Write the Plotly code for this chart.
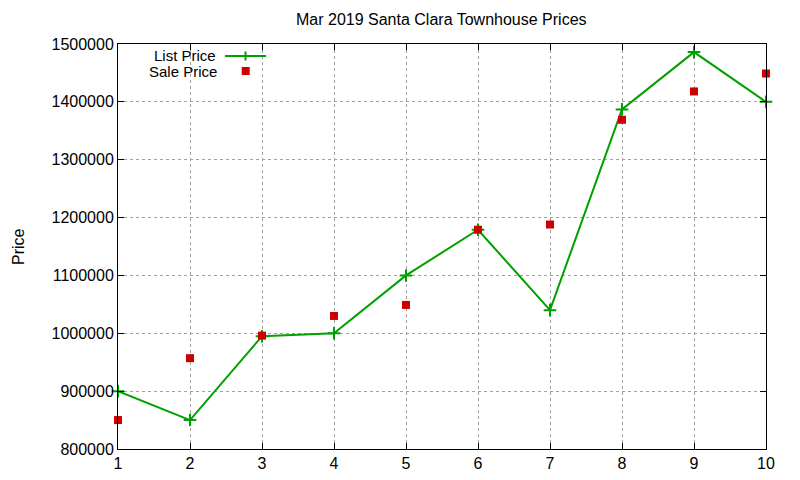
import plotly.graph_objects as go

x_vals = [1, 2, 3, 4, 5, 6, 7, 8, 9, 10]
list_price = [900000, 850000, 995000, 1000000, 1100000, 1179000, 1040000, 1387000, 1486000, 1400000]
sale_price = [850000, 957000, 996000, 1030000, 1049000, 1179000, 1188000, 1369000, 1418000, 1449000]
y_ticks = [800000, 900000, 1000000, 1100000, 1200000, 1300000, 1400000, 1500000]

GREEN = "#00a000"
RED = "#cc0000"
FONT = "Liberation Sans, Arial, sans-serif"

# plot area in page pixels (page has an 8px body offset)
PL, PR, PT, PB = 118, 766, 44, 449
OFF = 8
W, H = 800, 480
L, T = PL - OFF, PT - OFF
R, B = W - (PR - OFF), H - (PB - OFF)
pw, ph = PR - PL, PB - PT

def px(x):
    return (x - PL) / pw

def py(y):
    return (PB - y) / ph

fig = go.Figure()
fig.add_trace(go.Scatter(
    x=x_vals, y=list_price, mode="lines+markers", name="List Price",
    line=dict(color=GREEN, width=2),
    marker=dict(symbol="cross-thin", size=9, line=dict(color=GREEN, width=2)),
    showlegend=False, cliponaxis=False,
))
fig.add_trace(go.Scatter(
    x=x_vals, y=sale_price, mode="markers", name="Sale Price",
    marker=dict(symbol="square", size=8, color=RED),
    showlegend=False, cliponaxis=False,
))

axis_common = dict(
    showline=True, linecolor="black", linewidth=1, mirror="ticks",
    ticks="inside", ticklen=6, tickcolor="black",
    showgrid=True, gridcolor="#a0a0a0", griddash="dot", gridwidth=1,
    zeroline=False, tickfont=dict(family=FONT, size=16, color="black"),
)

fig.update_xaxes(range=[1, 10], tickvals=x_vals, ticklabelstandoff=0, **axis_common)
fig.update_yaxes(range=[800000, 1500000], tickvals=y_ticks,
                 ticktext=[str(v) for v in y_ticks], **axis_common)

shapes = [
    dict(type="line", xref="paper", yref="paper", x0=px(225), x1=px(266), y0=py(56), y1=py(56),
         line=dict(color=GREEN, width=2)),
    dict(type="line", xref="paper", yref="paper", x0=px(245.5), x1=px(245.5), y0=py(51.5), y1=py(60.5),
         line=dict(color=GREEN, width=2)),
    dict(type="rect", xref="paper", yref="paper", x0=px(241.7), x1=px(249.7), y0=py(67), y1=py(75),
         line=dict(width=0), fillcolor=RED),
]

annotations = [
    dict(text="List Price", xref="paper", yref="paper", x=px(217), y=py(55.5),
         xanchor="right", yanchor="middle", showarrow=False, borderpad=0,
         font=dict(family=FONT, size=15, color="black")),
    dict(text="Sale Price", xref="paper", yref="paper", x=px(218), y=py(71.5),
         xanchor="right", yanchor="middle", showarrow=False, borderpad=0,
         font=dict(family=FONT, size=15, color="black")),
    dict(text="Price", xref="paper", yref="paper", x=px(18), y=py(247),
         xanchor="center", yanchor="middle", showarrow=False, textangle=-90,
         font=dict(family=FONT, size=16, color="black")),
    dict(text="Mar 2019 Santa Clara Townhouse Prices", xref="paper", yref="paper",
         x=px(441), y=py(20), xanchor="center", yanchor="middle", showarrow=False,
         font=dict(family=FONT, size=16, color="black")),
]

fig.update_layout(
    width=W, height=H,
    margin=dict(l=L, r=R, t=T, b=B),
    paper_bgcolor="white", plot_bgcolor="white",
    shapes=shapes, annotations=annotations,
    showlegend=False,
)

fig.write_html("out.html")
